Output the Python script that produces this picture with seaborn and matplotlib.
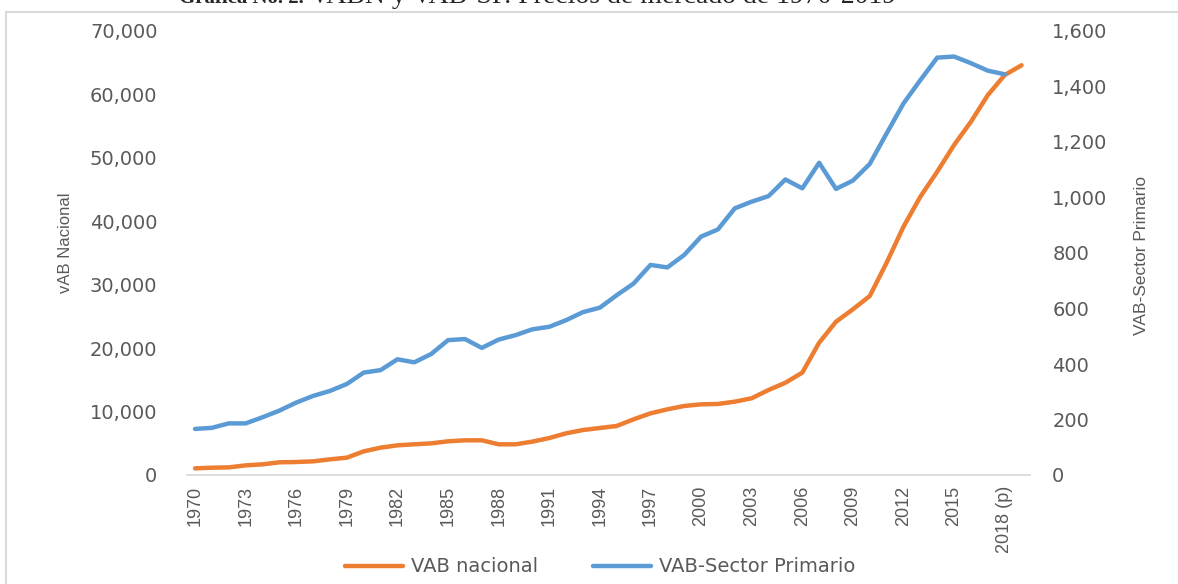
import numpy as np
import pandas as pd
import matplotlib
matplotlib.use("Agg")
import matplotlib.pyplot as plt
import matplotlib.patches as mpatches
import matplotlib.ticker as mticker
import seaborn as sns

years = list(range(1970, 2020))
year_labels = [str(y) for y in years]
year_labels[48] = "2018 (p)"

# VAB nacional (left axis), 1970-2019
vab_nacional = [
    1050, 1150, 1200, 1520, 1680, 2000, 2050, 2150, 2470, 2730,
    3730, 4310, 4680, 4840, 4990, 5310, 5470, 5470, 4840, 4840,
    5260, 5830, 6570, 7090, 7410, 7730, 8780, 9720, 10350, 10880,
    11140, 11200, 11560, 12100, 13400, 14550, 16140, 20860, 24170, 26120,
    28220, 33470, 39150, 43880, 47820, 52030, 55700, 59900, 63060, 64600,
]

# VAB-Sector Primario (right axis), 1970-2018
vab_primario = [
    166, 170, 186, 186, 208, 232, 261, 285, 303, 328,
    369, 378, 417, 406, 436, 486, 490, 458, 488, 504,
    525, 534, 558, 587, 603, 648, 690, 757, 748, 793,
    859, 885, 961, 985, 1005, 1065, 1033, 1125, 1031, 1061,
    1121, 1231, 1339, 1423, 1504, 1508, 1484, 1457, 1444,
]

ORANGE = "#ED7D31"
BLUE = "#5B9BD5"
GREY = "#595959"
NARROW = ["Liberation Sans", "DejaVu Sans"]

df_nac = pd.DataFrame({"idx": np.arange(len(vab_nacional)), "val": vab_nacional})
df_pri = pd.DataFrame({"idx": np.arange(len(vab_primario)), "val": vab_primario})

sns.set_style("white")
plt.rcParams["font.family"] = ["DejaVu Sans"]

fig = plt.figure(figsize=(11.78, 5.84), dpi=100)
W, H = 1178, 584
ax = fig.add_axes([186.6 / W, 1 - 475 / H, (1030 - 186.6) / W, (475 - 31) / H])
ax2 = ax.twinx()

sns.lineplot(data=df_nac, x="idx", y="val", ax=ax, color=ORANGE, lw=3.2,
             legend=False)
sns.lineplot(data=df_pri, x="idx", y="val", ax=ax2, color=BLUE, lw=3.2,
             legend=False)

ax.set_xlim(-0.5, len(years) - 0.5)
ax.set_ylim(0, 70000)
ax2.set_ylim(0, 1600)
ax.yaxis.set_major_locator(mticker.MultipleLocator(10000))
ax2.yaxis.set_major_locator(mticker.MultipleLocator(200))
ax.yaxis.set_major_formatter(mticker.StrMethodFormatter("{x:,.0f}"))
ax2.yaxis.set_major_formatter(mticker.StrMethodFormatter("{x:,.0f}"))

major = list(range(0, len(years), 3))
ax.set_xticks(major)
ax.set_xticklabels([year_labels[i] for i in major], rotation=90,
                   family=NARROW, fontsize=13, color=GREY)
ax.set_xticks(np.arange(-0.5, len(years)), minor=True)
ax.tick_params(axis="x", which="major", length=0, pad=8)
ax.tick_params(axis="x", which="minor", length=5, width=1.2, color="#d9d9d9",
               direction="out")
ax.tick_params(axis="y", length=0, pad=21, labelsize=14, labelcolor=GREY)
ax2.tick_params(axis="y", length=0, pad=16, labelsize=14, labelcolor=GREY)

for a in (ax, ax2):
    for s in ("top", "left", "right"):
        a.spines[s].set_visible(False)
    a.spines["bottom"].set_color("#d9d9d9")
    a.spines["bottom"].set_linewidth(1.3)
    a.grid(False)
    a.set_xlabel("")
    a.set_ylabel("")
ax2.spines["bottom"].set_visible(False)

# axis titles
fig.text(66 / W, 1 - 243 / H, "vAB Nacional", rotation=90, ha="center",
         va="center", family=NARROW, fontsize=12, color=GREY)
fig.text(1142 / W, 1 - 255 / H, "VAB-Sector Primario", rotation=90, ha="center",
         va="center", family=NARROW, fontsize=12.5, color=GREY)

handles = [
    plt.Line2D([], [], color=ORANGE, lw=3.2, label="VAB nacional"),
    plt.Line2D([], [], color=BLUE, lw=3.2, label="VAB-Sector Primario"),
]
leg = fig.legend(handles=handles, loc="center", bbox_to_anchor=(600 / W, 1 - 567 / H),
                 ncol=2, frameon=False, fontsize=14, handlelength=3.0,
                 columnspacing=2.8, handletextpad=0.4)
for t in leg.get_texts():
    t.set_color(GREY)

# outer frame of the chart area
fig.patches.append(mpatches.Rectangle((6 / W, -0.1), 1.2, 1 - 11.5 / H + 0.1,
                                      transform=fig.transFigure, fill=False,
                                      edgecolor="#d9d9d9", lw=1.5))

# title, cut off at the top of the picture as in the source
fig.text(304 / W, 1 - 3 / H, "Gráfica No. 2.", ha="right", va="baseline",
         family="Liberation Serif", fontweight="bold", fontsize=15)
fig.text(310 / W, 1 - 3 / H, "VABN y VAB-SP. Precios de mercado de 1970-2019",
         ha="left", va="baseline", family="Liberation Serif", fontsize=20)

fig.savefig("out.png", dpi=100)
